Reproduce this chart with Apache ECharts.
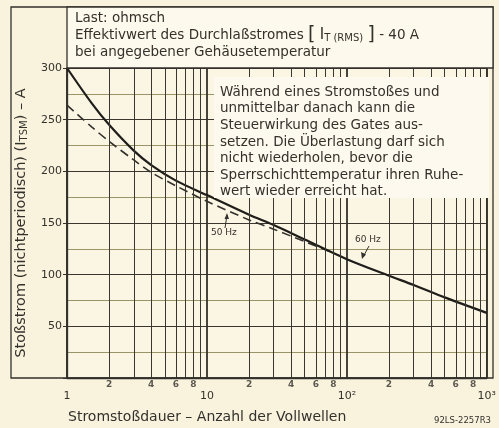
<!DOCTYPE html>
<html>
<head>
<meta charset="utf-8">
<script src="https://cdn.jsdelivr.net/npm/echarts@6/dist/echarts.min.js"></script>
<style>
  html, body { margin: 0; padding: 0; background: #f9f3de; }
  #chart { width: 499px; height: 428px; }
</style>
</head>
<body>
<div id="chart"></div>
<script>
// Stoßstrom über Anzahl der Vollwellen (log x)
const dauer60 = [1, 1.5, 2, 3, 4, 6, 10, 20, 30, 50, 100, 200, 300, 500, 1000]
const strom60Hz = [300, 266, 245, 220, 206, 191, 177, 158, 148, 134, 115, 99, 90, 78, 63]
const dauer50 = [1, 1.5, 2, 3, 4, 6, 10, 20, 30, 50, 80]
const strom50Hz = [264, 243, 229, 211, 199, 186, 171, 153, 144, 132, 121]

// Gitterlinien innerhalb der Dekaden
const gitterX = [2, 3, 4, 5, 6, 7, 8, 9, 20, 30, 40, 50, 60, 70, 80, 90, 200, 300, 400, 500, 600, 700, 800, 900]
const kleineLabelsX = [2, 4, 6, 8, 20, 40, 60, 80, 200, 400, 600, 800]
const dekadenLabels = { 1: '1', 10: '10', 100: '10²', 1000: '10³' }

const hinweisZeilen = [
  'Während eines Stromstoßes und',
  'unmittelbar danach kann die',
  'Steuerwirkung des Gates aus-',
  'setzen. Die Überlastung darf sich',
  'nicht wiederholen, bevor die',
  'Sperrschichttemperatur ihren Ruhe-',
  'wert wieder erreicht hat.'
]

const FONT = '"DejaVu Sans", sans-serif'
const INK = '#33312b'

const chart = echarts.init(document.getElementById('chart'))

const graphic = [
  // Rahmen um alles
  { type: 'rect', z: 100, shape: { x: 11, y: 7, width: 482, height: 371 },
    style: { fill: 'none', stroke: INK, lineWidth: 1.3 } },
  // Kopfkasten
  { type: 'rect', z: 100, shape: { x: 67, y: 7, width: 426, height: 61 },
    style: { fill: '#fdf9ec', stroke: INK, lineWidth: 1.3 } },
  { type: 'text', z: 101, x: 75, y: 11,
    style: { text: 'Last: ohmsch', font: '13.5px ' + FONT, fill: INK } },
  { type: 'text', z: 101, x: 75, y: 26,
    style: {
      text: 'Effektivwert des Durchlaßstromes {br|[} {i|I}{sub|T (RMS)} {br|]} {n|- 40 A}',
      font: '13.5px ' + FONT, fill: INK,
      rich: {
        br: { fontSize: 19, fontFamily: FONT, fill: INK },
        i: { fontSize: 15, fontFamily: FONT, fill: INK },
        sub: { fontSize: 10, fontFamily: FONT, fill: INK, padding: [6, 0, 0, 0] },
        n: { fontSize: 13.5, fontFamily: FONT, fill: INK }
      }
    } },
  { type: 'text', z: 101, x: 75, y: 45,
    style: { text: 'bei angegebener Gehäusetemperatur', font: '13.5px ' + FONT, fill: INK } },
  // Hinweiskasten im Diagramm
  { type: 'rect', z: 100, shape: { x: 214, y: 77, width: 275, height: 121 },
    style: { fill: '#fdf9ee', stroke: 'none' } },
  { type: 'text', z: 101, x: 220, y: 84,
    style: { text: hinweisZeilen.join('\n'), font: '13.5px ' + FONT, fill: INK, lineHeight: 16.6 } },
  // Achsentitel x
  { type: 'text', z: 101, x: 68, y: 410,
    style: { text: 'Stromstoßdauer – Anzahl der Vollwellen', font: '14px ' + FONT, fill: INK } },
  { type: 'text', z: 101, x: 491, y: 416,
    style: { text: '92LS-2257R3', font: '8.5px ' + FONT, fill: INK, align: 'right' } },
  // Kurvenbeschriftung
  { type: 'text', z: 101, x: 211, y: 228,
    style: { text: '50 Hz', font: '9px ' + FONT, fill: INK } },
  { type: 'polyline', z: 101, shape: { points: [[225, 228], [227, 215]] },
    style: { stroke: INK, lineWidth: 1 } },
  { type: 'polygon', z: 101, shape: { points: [[227, 213], [224.5, 219], [229, 219]] },
    style: { fill: INK } },
  { type: 'text', z: 101, x: 355, y: 235,
    style: { text: '60 Hz', font: '9px ' + FONT, fill: INK } },
  { type: 'polyline', z: 101, shape: { points: [[369, 246], [363, 257]] },
    style: { stroke: INK, lineWidth: 1 } },
  { type: 'polygon', z: 101, shape: { points: [[362, 259], [361, 252], [366, 254.5]] },
    style: { fill: INK } }
]

const options = {
  backgroundColor: '#f9f3de',
  animation: false,
  textStyle: { fontFamily: FONT, color: INK },
  grid: {
    left: 67, right: 6, top: 68, bottom: 50,
    show: true,
    backgroundColor: '#fbf6e3',
    borderColor: INK,
    borderWidth: 1.3
  },
  xAxis: {
    type: 'log',
    logBase: 10,
    min: 1,
    max: 1000,
    axisLine: { show: true, lineStyle: { color: INK, width: 1.3 } },
    axisTick: { show: false },
    axisLabel: {
      margin: 13,
      fontSize: 11,
      color: INK,
      formatter: function (v) {
        return dekadenLabels[Math.round(v)] || ''
      }
    },
    splitLine: { show: true, lineStyle: { color: INK, width: 1.8 } }
  },
  yAxis: {
    type: 'value',
    min: 0,
    max: 300,
    interval: 50,
    name: 'Stoßstrom (nichtperiodisch) (I{s|TSM}) – A',
    nameLocation: 'middle',
    nameGap: 38,
    nameTextStyle: {
      fontSize: 14.5,
      color: INK,
      rich: {
        s: { fontSize: 10, color: INK, padding: [5, 0, 0, 0] }
      }
    },
    axisLine: { show: true, lineStyle: { color: INK, width: 1.3 } },
    axisTick: { show: true, length: 4, lineStyle: { color: INK } },
    axisLabel: {
      margin: 5,
      fontSize: 11,
      color: INK,
      formatter: function (v) {
        return v === 0 ? '' : v
      }
    },
    splitLine: { show: true, lineStyle: { color: '#3a3730', width: 1.2 } },
    minorTick: { show: false, splitNumber: 2 },
    minorSplitLine: { show: true, lineStyle: { color: '#9a9468', width: 1 } }
  },
  graphic: graphic,
  series: [
    {
      // Gitterlinien und kleine x-Beschriftung
      type: 'scatter',
      z: 1,
      silent: true,
      clip: false,
      symbolSize: 0,
      data: kleineLabelsX.map(v => [v, 0]),
      label: {
        show: true,
        position: 'bottom',
        distance: 2,
        fontSize: 9,
        fontWeight: 'bold',
        color: INK,
        formatter: p => String(p.value[0]).charAt(0)
      },
      markLine: {
        silent: true,
        symbol: 'none',
        label: { show: false },
        lineStyle: { color: '#3a3730', width: 1, type: 'solid' },
        data: gitterX.map(v => ({ xAxis: v }))
      }
    },
    {
      name: '50 Hz',
      type: 'line',
      z: 3,
      smooth: 0.3,
      showSymbol: false,
      data: dauer50.map((d, i) => [d, strom50Hz[i]]),
      lineStyle: { color: INK, width: 1.6, type: [9, 5] }
    },
    {
      name: '60 Hz',
      type: 'line',
      z: 4,
      smooth: 0.3,
      showSymbol: false,
      data: dauer60.map((d, i) => [d, strom60Hz[i]]),
      lineStyle: { color: '#1f1d1a', width: 2.2 }
    }
  ]
}

chart.setOption(options)
window.addEventListener('resize', function () {
  chart.resize()
})
</script>
</body>
</html>
